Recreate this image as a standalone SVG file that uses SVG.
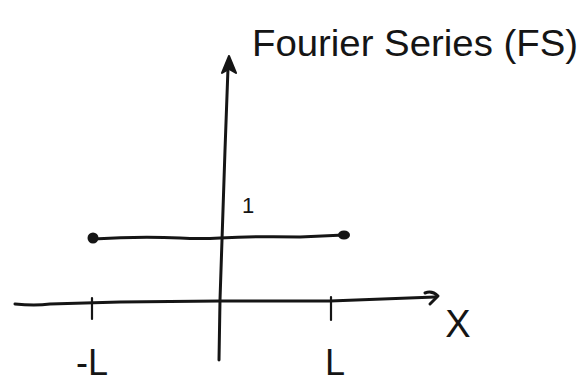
<svg xmlns="http://www.w3.org/2000/svg" width="582" height="385" viewBox="0 0 582 385">
<style>
.ln{fill:none;stroke:#151515;stroke-width:3;stroke-linecap:round;stroke-linejoin:round}
.tk{fill:none;stroke:#151515;stroke-width:2.2;stroke-linecap:round}
.t{font-family:"Liberation Sans","DejaVu Sans",sans-serif;fill:#151515}
</style>
<rect width="582" height="385" fill="#ffffff"/>
<g id="connectors">
<path id="y-axis" class="ln" d="M228,68 L225,150 L222,240 L220,300 L219,360"/>
<path id="y-arrow" d="M229,56 L222,73 L229,69 L236,73 Z" fill="#151515" stroke="#151515" stroke-width="2" stroke-linejoin="round"/>
<path id="x-axis" class="ln" d="M15,304 Q35,306 50,304 L120,302 L220,301 L330,301 L435,297"/>
<path id="x-arrow" class="ln" d="M425,293 Q432,290 438,296 L430,304"/>
<path class="tk" d="M92,298 L92,319"/>
<path class="tk" d="M331,297 L331,320"/>
</g>
<g id="function">
<path class="ln" d="M93,239 Q140,236 180,238 Q200,239 220,238 Q260,236 300,237 L344,235"/>
<circle cx="93" cy="238" r="5.5" fill="#151515"/>
<ellipse cx="344" cy="235" rx="6" ry="4.5" fill="#151515"/>
</g>
<g id="labels">
<text class="t" x="578" y="56" font-size="36" text-anchor="end" textLength="326" lengthAdjust="spacingAndGlyphs">Fourier Series (FS)</text>
<text class="t" x="248" y="213" font-size="22" text-anchor="middle">1</text>
<text class="t" x="458" y="337" font-size="38" text-anchor="middle">X</text>
<text class="t" x="92" y="375" font-size="36" text-anchor="middle">-L</text>
<text class="t" x="335" y="375" font-size="36" text-anchor="middle">L</text>
</g>
</svg>
